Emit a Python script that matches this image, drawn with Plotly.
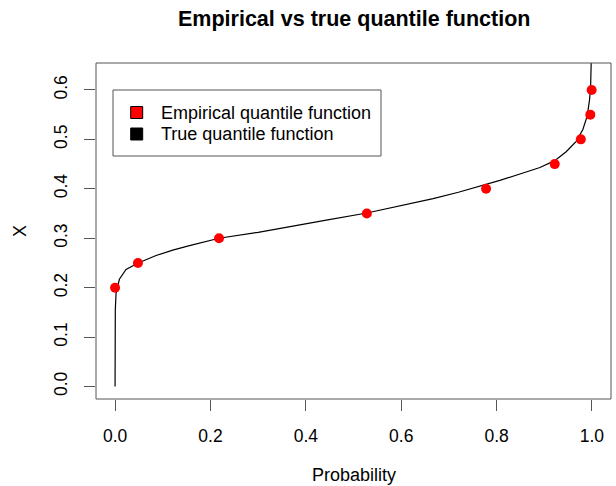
import plotly.graph_objects as go

# ---- data ----
emp_prob = [0.0, 0.048, 0.218, 0.528, 0.778, 0.922, 0.9767, 0.9966, 0.9994]
emp_x = [0.20, 0.25, 0.30, 0.35, 0.40, 0.45, 0.50, 0.55, 0.60]

true_prob = [0.0, 0.0, 0.0005, 0.002, 0.009, 0.023, 0.0485, 0.086, 0.121, 0.156,
             0.218, 0.30, 0.367, 0.44, 0.528, 0.60, 0.667, 0.72, 0.765, 0.807,
             0.849, 0.891, 0.922, 0.946, 0.967, 0.981, 0.990, 0.995, 0.9973,
             0.9987, 0.9995]
true_x = [0.0, 0.10, 0.155, 0.188, 0.217, 0.237, 0.250, 0.265, 0.276, 0.285,
          0.300, 0.312, 0.323, 0.336, 0.351, 0.366, 0.380, 0.393, 0.405, 0.417,
          0.430, 0.443, 0.457, 0.475, 0.496, 0.520, 0.547, 0.580, 0.607,
          0.654, 0.700]

x_ticks = [0.0, 0.2, 0.4, 0.6, 0.8, 1.0]
x_ticklabels = ["0.0", "0.2", "0.4", "0.6", "0.8", "1.0"]
y_ticks = [0.0, 0.1, 0.2, 0.3, 0.4, 0.5, 0.6]
y_ticklabels = ["0.0", "0.1", "0.2", "0.3", "0.4", "0.5", "0.6"]

title_text = "Empirical vs true quantile function"
x_title = "Probability"
y_title = "X"
legend_labels = ["Empirical quantile function", "True quantile function"]
legend_colors = ["#FF0000", "#000000"]

# ---- layout geometry (pixels) ----
W, H = 616, 486
L, R, T, B = 96, 611, 63, 399
FONT = "Liberation Sans, Arial, sans-serif"
AX = "#555555"


def px(xp):
    return (xp - L) / (R - L)


def py(yp):
    return (B - yp) / (B - T)


fig = go.Figure()
fig.add_trace(go.Scatter(x=true_prob, y=true_x, mode="lines",
                         line=dict(color="black", width=1.2),
                         showlegend=False, hoverinfo="skip"))
fig.add_trace(go.Scatter(x=emp_prob, y=emp_x, mode="markers",
                         marker=dict(color="#FF0000", size=10, line=dict(width=0)),
                         cliponaxis=False, showlegend=False))

shapes = [
    dict(type="rect", xref="paper", yref="paper", x0=0, x1=1, y0=0, y1=1,
         line=dict(color=AX, width=1)),
    dict(type="rect", xref="paper", yref="paper", x0=px(113), x1=px(381),
         y0=py(156), y1=py(90), line=dict(color=AX, width=1), fillcolor="white"),
]
annotations = [
    dict(text="<b>" + title_text + "</b>", xref="paper", yref="paper",
         x=px(354), y=py(19), showarrow=False, xanchor="center", yanchor="middle",
         font=dict(family=FONT, size=21.5, color="black")),
    dict(text=x_title, xref="paper", yref="paper", x=px(354), y=py(475),
         showarrow=False, xanchor="center", yanchor="middle",
         font=dict(family=FONT, size=18, color="black")),
    dict(text=y_title, xref="paper", yref="paper", x=px(20), y=py(231),
         showarrow=False, xanchor="center", yanchor="middle", textangle=-90,
         font=dict(family=FONT, size=18, color="black")),
]
rows_y = [112.5, 134]
for lab, col, ry in zip(legend_labels, legend_colors, rows_y):
    shapes.append(dict(type="rect", xref="paper", yref="paper",
                       x0=px(130.7), x1=px(142.7), y0=py(ry + 6), y1=py(ry - 6),
                       fillcolor=col, line=dict(color="black", width=1)))
    annotations.append(dict(text=lab, xref="paper", yref="paper", x=px(159),
                            y=py(ry), showarrow=False, xanchor="left",
                            yanchor="middle",
                            font=dict(family=FONT, size=18, color="black")))

fig.update_layout(
    width=W, height=H,
    margin=dict(l=L, r=W - R, t=T, b=H - B, pad=0),
    paper_bgcolor="white", plot_bgcolor="white",
    font=dict(family=FONT, size=17.5, color="black"),
    shapes=shapes, annotations=annotations,
    xaxis=dict(range=[-0.04, 1.04], tickvals=x_ticks, ticktext=x_ticklabels,
               ticks="outside", ticklen=11, tickcolor=AX, tickwidth=1,
               showgrid=False, zeroline=False, showline=False,
               ticklabelstandoff=10, tickfont=dict(size=17.5)),
    yaxis=dict(range=[-0.0252, 0.6545], tickvals=y_ticks, ticktext=y_ticklabels,
               ticks="outside", ticklen=11, tickcolor=AX, tickwidth=1,
               showgrid=False, zeroline=False, showline=False, tickangle=-90,
               ticklabelstandoff=10, tickfont=dict(size=17.5)),
)

fig.write_html("out.html")
